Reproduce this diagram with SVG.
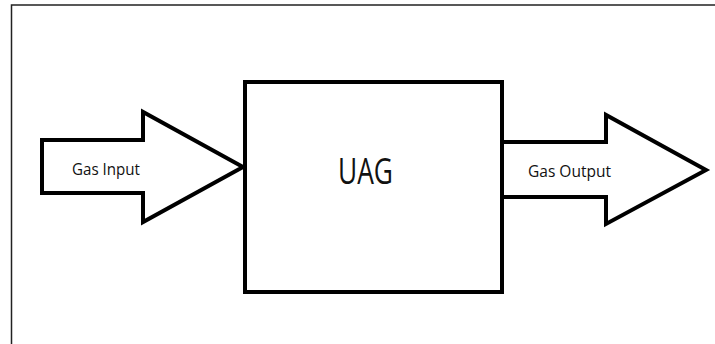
<svg xmlns="http://www.w3.org/2000/svg" width="715" height="344" viewBox="0 0 715 344">
<style>
.frame{fill:none;stroke:#222;stroke-width:1.5}
.shape{fill:#fff;stroke:#000;stroke-width:4;stroke-linejoin:miter}
.lbl{font-family:"Open Sans","Liberation Sans",sans-serif;fill:#111}
</style>
<rect width="715" height="344" fill="#fff"/>
<path class="frame" d="M11.5,344 V5 H715"/>
<g id="connectors">
<g id="gas-input">
<path class="shape" d="M42,140 H143 V112 L243,167 L143,222 V193 H42 Z"/>
<text class="lbl" x="72" y="175" font-size="16.5" textLength="68" lengthAdjust="spacingAndGlyphs">Gas Input</text>
</g>
<g id="gas-output">
<path class="shape" d="M502,142 H606 V115 L706,170 L606,224 V197 H502"/>
<text class="lbl" x="528" y="177" font-size="16.5" textLength="83" lengthAdjust="spacingAndGlyphs">Gas Output</text>
</g>
</g>
<g id="uag">
<rect class="shape" x="245" y="82" width="257" height="210"/>
<text class="lbl" x="338" y="184" font-size="36" textLength="55" lengthAdjust="spacingAndGlyphs">UAG</text>
</g>
</svg>
